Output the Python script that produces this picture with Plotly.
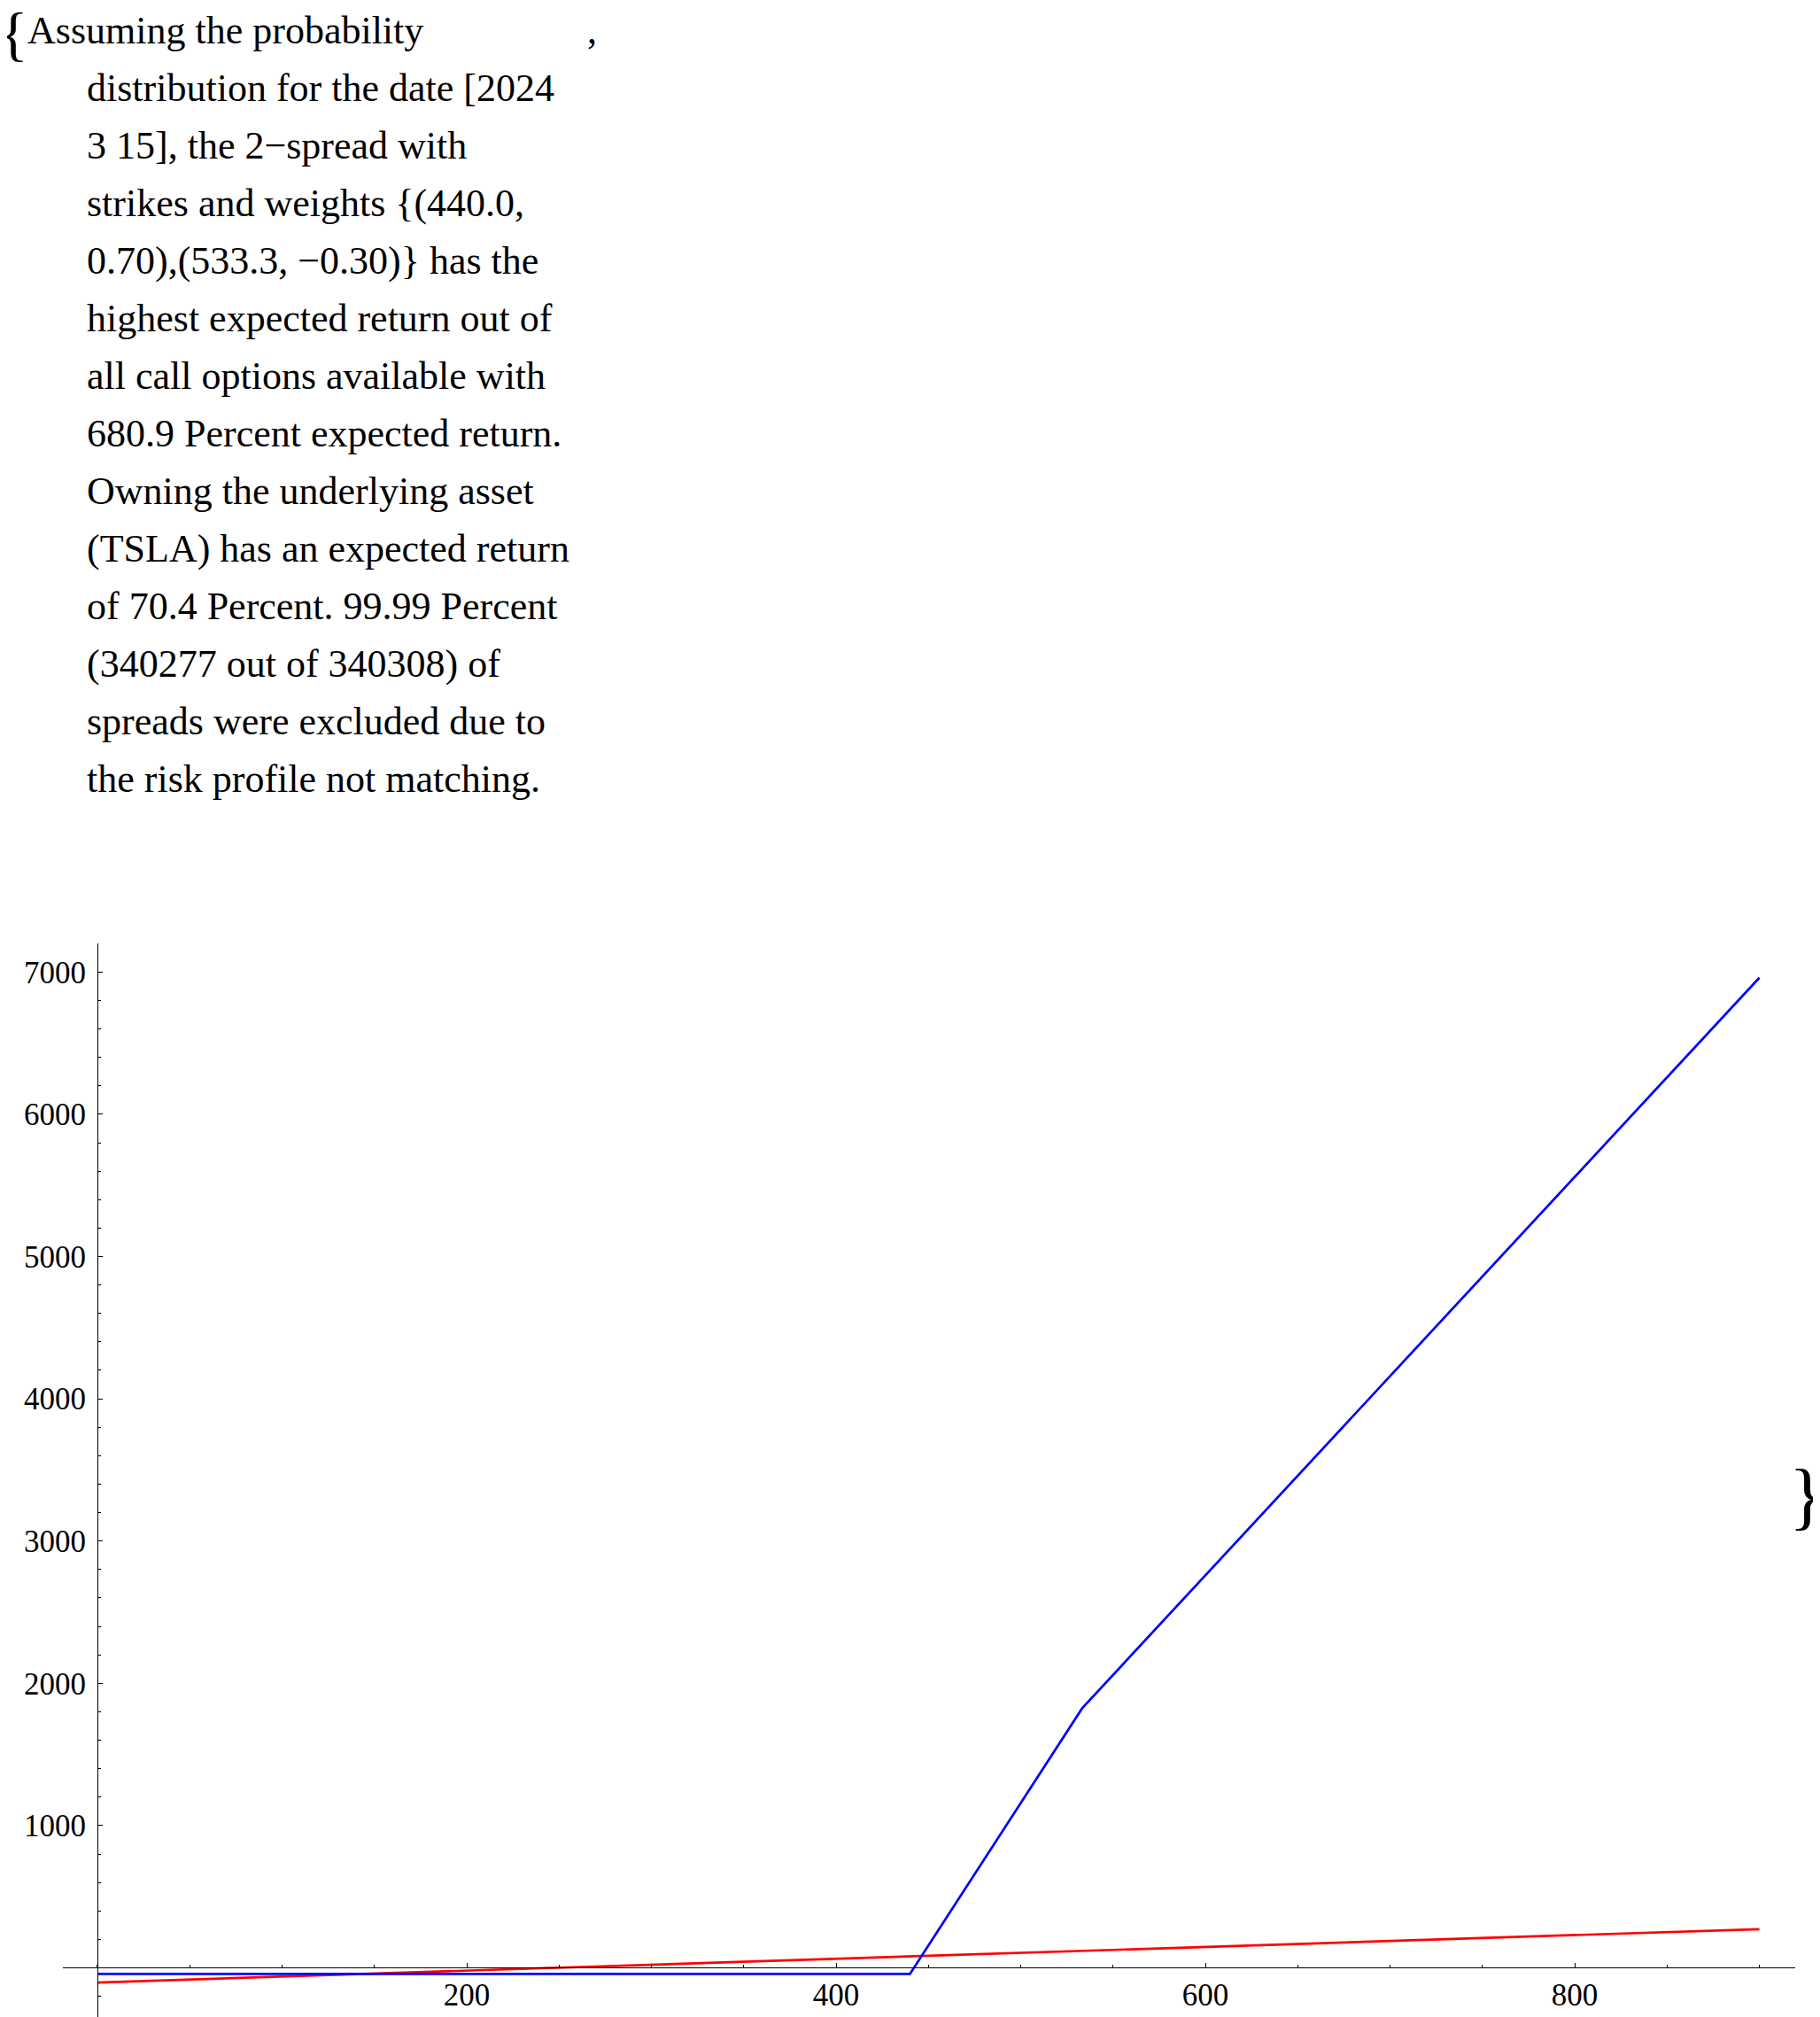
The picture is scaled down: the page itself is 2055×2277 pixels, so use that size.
import plotly.graph_objects as go

# payoff curves (underlying price vs return in percent)
spread_x = [0, 440.0, 533.3, 900]
spread_y = [-43, -43, 1825, 6960]

asset_x = [0, 900]
asset_y = [-103, 272]

x_ticks = [200, 400, 600, 800]
y_ticks = [1000, 2000, 3000, 4000, 5000, 6000, 7000]

text_lines = [
    "Assuming the probability",
    "distribution for the date [2024",
    "3 15], the 2\u2212spread with",
    "strikes and weights {(440.0,",
    "0.70),(533.3, \u22120.30)} has the",
    "highest expected return out of",
    "all call options available with",
    "680.9 Percent expected return.",
    "Owning the underlying asset",
    "(TSLA) has an expected return",
    "of 70.4 Percent. 99.99 Percent",
    "(340277 out of 340308) of",
    "spreads were excluded due to",
    "the risk profile not matching.",
]

# page body has an 8px margin, so the figure is shrunk by that much
OFF = 8
W, H = 2055 - OFF, 2277 - OFF
FONT = "Liberation Serif, Times New Roman, serif"


def px_x(p):
    return (p - OFF) / W


def px_y(p):
    return 1 - (p - OFF) / H


# plot box (screen pixels -> paper)
x_range = [-18.7, 919.4]
y_range = [-345.6, 7201]
x_dom = [px_x(71), px_x(2027)]
y_dom = [0, px_y(1065)]

# axes cross at the origin, like Mathematica
yaxis_pos = x_dom[0] + (0 - x_range[0]) / (x_range[1] - x_range[0]) * (x_dom[1] - x_dom[0])
xaxis_pos = y_dom[0] + (0 - y_range[0]) / (y_range[1] - y_range[0]) * (y_dom[1] - y_dom[0])

fig = go.Figure()
fig.add_trace(go.Scatter(x=asset_x, y=asset_y, mode='lines',
                         line=dict(color='rgb(255,0,0)', width=2.7), showlegend=False))
fig.add_trace(go.Scatter(x=spread_x, y=spread_y, mode='lines',
                         line=dict(color='rgb(0,0,255)', width=2.7), showlegend=False))

annotations = []
text_size = 44
for i, line in enumerate(text_lines):
    baseline = 49 + 65 * i
    annotations.append(dict(
        text=line, xref='paper', yref='paper',
        x=px_x(29 if i == 0 else 96), y=px_y(baseline - 0.34 * text_size),
        xanchor='left', yanchor='middle', showarrow=False,
        font=dict(family=FONT, size=text_size, color='black')))

# list braces and the separating comma
annotations.append(dict(text='{', xref='paper', yref='paper', x=px_x(15), y=px_y(38),
                        xanchor='center', yanchor='middle', showarrow=False, borderpad=0,
                        font=dict(family=FONT, size=68, color='black')))
annotations.append(dict(text=',', xref='paper', yref='paper', x=px_x(668), y=px_y(49 - 0.34 * text_size),
                        xanchor='center', yanchor='middle', showarrow=False,
                        font=dict(family=FONT, size=text_size, color='black')))
annotations.append(dict(text='}', xref='paper', yref='paper', x=px_x(2040), y=px_y(1688),
                        xanchor='center', yanchor='middle', showarrow=False, borderpad=0,
                        font=dict(family=FONT, size=84, color='black')))

fig.update_layout(
    width=W, height=H,
    margin=dict(l=0, r=0, t=0, b=0),
    paper_bgcolor='white', plot_bgcolor='white',
    font=dict(family=FONT, size=35, color='black'),
    annotations=annotations,
    xaxis=dict(range=x_range, domain=x_dom, anchor='free', position=xaxis_pos,
               showgrid=False, zeroline=False, showline=True, linecolor='black', linewidth=1,
               tickvals=x_ticks, ticks='inside', ticklen=5, tickwidth=1, tickcolor='black',
               minor=dict(tickmode='linear', tick0=0, dtick=50, ticks='inside', ticklen=3,
                          tickwidth=1, tickcolor='black'),
               tickfont=dict(family=FONT, size=35, color='black')),
    yaxis=dict(range=y_range, domain=y_dom, anchor='free', position=yaxis_pos,
               showgrid=False, zeroline=False, showline=True, linecolor='black', linewidth=1,
               tickvals=y_ticks, ticks='inside', ticklen=5, tickwidth=1, tickcolor='black',
               ticklabelstandoff=6,
               minor=dict(tickmode='linear', tick0=0, dtick=200, ticks='inside', ticklen=3,
                          tickwidth=1, tickcolor='black'),
               tickfont=dict(family=FONT, size=35, color='black')),
)

fig.write_html("out.html")
